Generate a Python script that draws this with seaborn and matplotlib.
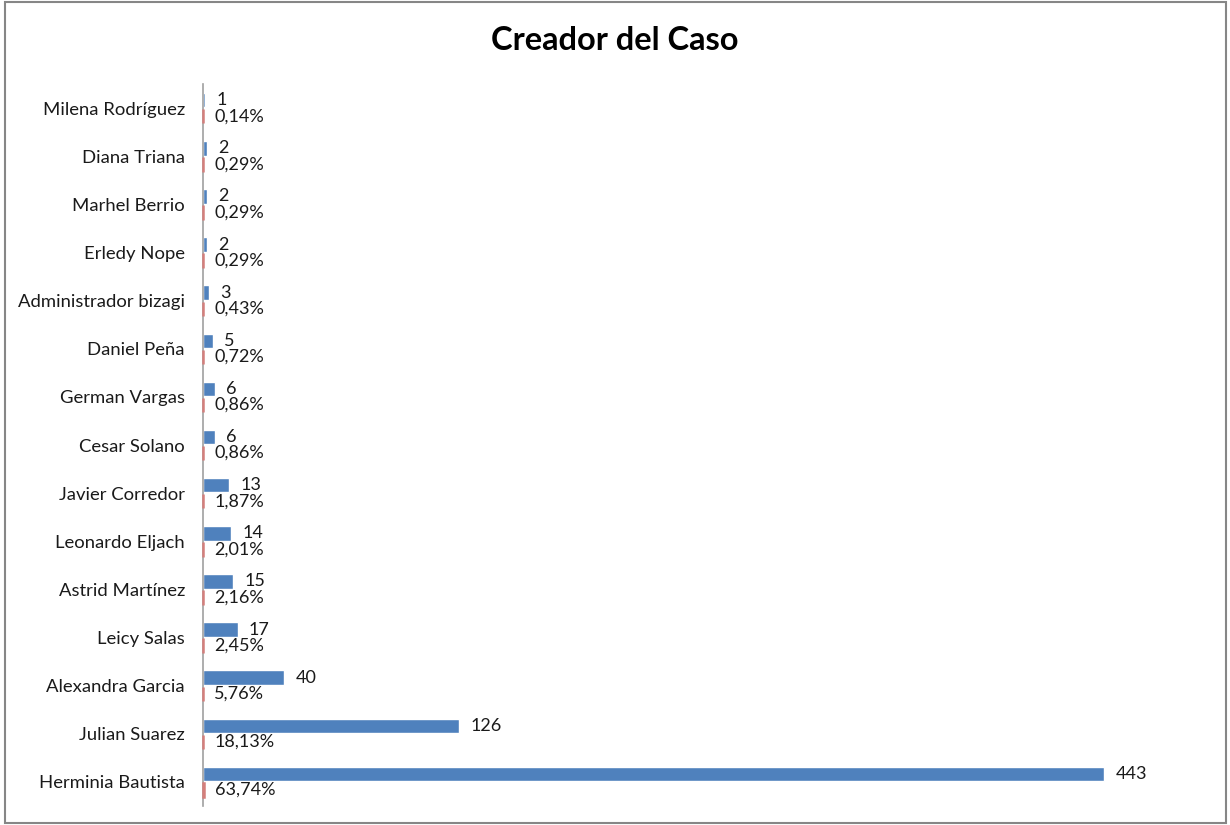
import matplotlib
matplotlib.use("Agg")
import matplotlib.pyplot as plt
from matplotlib.patches import Rectangle
import seaborn as sns
import pandas as pd

names = ["Milena Rodríguez", "Diana Triana", "Marhel Berrio", "Erledy Nope",
         "Administrador bizagi", "Daniel Peña", "German Vargas", "Cesar Solano",
         "Javier Corredor", "Leonardo Eljach", "Astrid Martínez", "Leicy Salas",
         "Alexandra Garcia", "Julian Suarez", "Herminia Bautista"]
counts = [1, 2, 2, 2, 3, 5, 6, 6, 13, 14, 15, 17, 40, 126, 443]
percents = [0.14, 0.29, 0.29, 0.29, 0.43, 0.72, 0.86, 0.86, 1.87, 2.01,
            2.16, 2.45, 5.76, 18.13, 63.74]
title = "Creador del Caso"

sns.set_theme(style="white")
plt.rcParams['font.family'] = ['Lato', 'DejaVu Sans']

df = pd.DataFrame({
    "name": names * 2,
    "serie": ["Cantidad"] * len(names) + ["Porcentaje"] * len(names),
    "value": counts + [p / 100 for p in percents],
})

fig = plt.figure(figsize=(12.3, 8.25), dpi=100)
ax = fig.add_axes([0.165, 0.023, 0.794, 0.875])

sns.barplot(data=df, y="name", x="value", hue="serie", orient="h",
            order=names, hue_order=["Cantidad", "Porcentaje"],
            palette=["#4F81BD", "#C0504D"], width=0.667, gap=0.1,
            legend=False, ax=ax, saturation=1)

for p in ax.containers[1]:
    p.set_edgecolor("#D47F7C")
    p.set_linewidth(1.8)
    p.set_zorder(4)
    p.set_clip_on(False)

ax.bar_label(ax.containers[0], labels=[str(c) for c in counts], padding=8,
             fontsize=13, color="#1a1a1a")
ax.bar_label(ax.containers[1],
             labels=[f"{p:.2f}".replace(".", ",") + "%" for p in percents],
             padding=8, fontsize=13, color="#1a1a1a")

ax.set_xlim(0, 480)
ax.set_ylim(14.5, -0.5)
ax.set_xlabel("")
ax.set_ylabel("")
ax.set_xticks([])
ax.tick_params(axis="y", length=0, pad=13, labelsize=13.3, labelcolor="#1a1a1a")
for s in ["top", "right", "bottom"]:
    ax.spines[s].set_visible(False)
ax.spines["left"].set_color("#A0A0A0")
ax.spines["left"].set_linewidth(1.2)

fig.text(0.5, 1 - 40 / 825, title, ha="center", va="center",
         fontsize=23.5, fontweight="bold", color="black")

fig.patches.append(Rectangle((0.004, 0.003), 0.993, 0.994,
                             transform=fig.transFigure, fill=False,
                             edgecolor="#868686", linewidth=1.5))

fig.savefig("out.png", dpi=100)
